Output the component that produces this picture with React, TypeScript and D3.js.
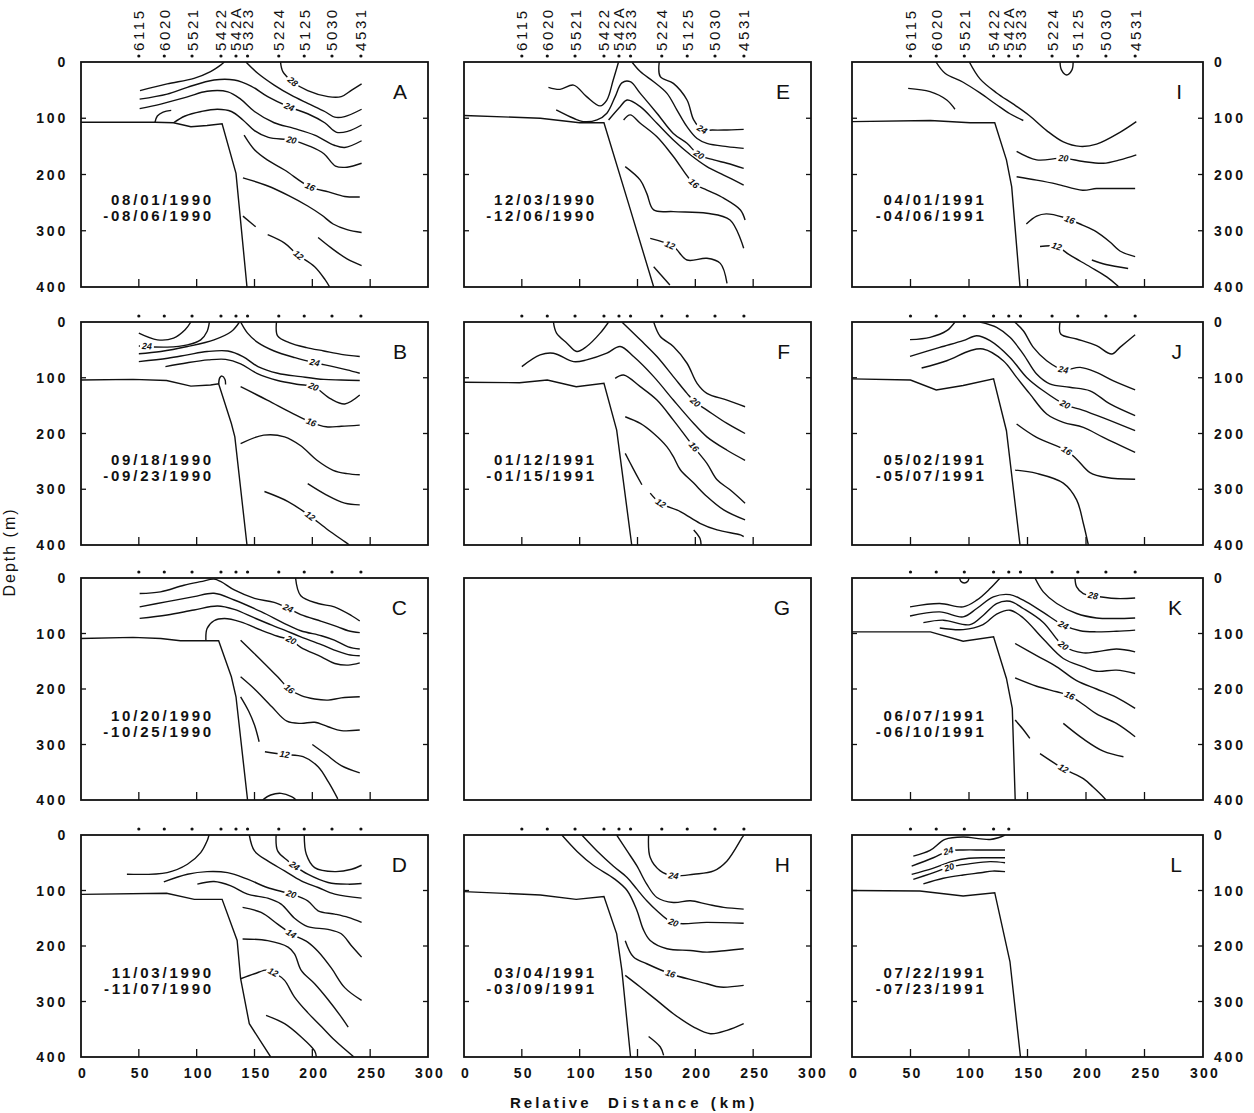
import React from 'react';
import * as d3 from 'd3';

type Pt = number[];
type Contour = { p: Pt[]; l?: string; at?: number };

// ---------- stations ----------
const stationNames = ['6115', '6020', '5521', '5422', '542A', '5323', '5224', '5125', '5030', '4531'];
const stationKm = [50, 72, 96, 121, 134, 144, 171, 193, 217, 242];

// ---------- axis ticks ----------
const depthTicks = [0, 100, 200, 300, 400];
const innerDepthTicks = [100, 200, 300];
const distTicks = [0, 50, 100, 150, 200, 250, 300];
const innerDistTicks = [50, 100, 150, 200, 250];

// ---------- bathymetry (km, depth m) ----------
const bathyA: Pt[] = [[0, 107], [64, 107], [80, 108], [95, 115], [109, 113], [122, 110], [134, 198], [143.5, 400]];
const bathyB: Pt[] = [[0, 104], [45, 103], [74, 105], [95, 115], [112, 113], [119, 111], [130, 182], [133, 206], [143.5, 400]];
const bathyC: Pt[] = [[0, 109], [45, 107], [69, 109], [86, 113], [108, 113], [119, 113], [130, 178], [134, 214], [144, 400]];
const bathyD: Pt[] = [[0, 107], [74, 105], [98, 116], [122, 116], [135, 190], [138, 259], [145.5, 340], [164, 400]];
const bathyE: Pt[] = [[0, 95], [66, 100], [100, 108], [121, 108], [142, 250], [164, 400]];
const bathyF: Pt[] = [[0, 108], [48, 109], [72, 104], [97, 116], [121, 110], [132, 194], [145, 400]];
const bathyH: Pt[] = [[0, 102], [66, 108], [97, 116], [121, 111], [132, 178], [136.5, 244], [144, 400]];
const bathyI: Pt[] = [[0, 106], [67, 104], [101, 108], [122, 108], [132, 174], [136.5, 222], [143.6, 400]];
const bathyJ: Pt[] = [[0, 102], [50, 104], [72, 122], [95, 114], [121, 102], [132, 195], [143.6, 400]];
const bathyK: Pt[] = [[0, 97], [67, 97], [95, 114], [121, 106], [132, 181], [137, 235], [139.5, 400]];
const bathyL: Pt[] = [[0, 100], [58, 101], [95, 110], [122, 104], [135, 228], [144, 400]];

// ---------- isotherms (km, depth m) ----------
const contoursA: Contour[] = [
  { p: [[51, 51], [74.5, 39], [97.7, 29], [112, 17], [121, 5], [124, 0]] },
  { p: [[172.5, 0], [174.5, 17], [183, 35], [196, 51], [213.6, 61.6], [225, 61.6], [234, 50], [242.6, 39]], l: '28', at: 183 },
  { p: [[142.6, 0], [152.8, 20], [167, 41], [181.7, 59], [196, 73.5], [210.7, 88], [219.4, 98], [228, 97], [242.6, 84]] },
  { p: [[50.7, 66], [74.5, 57], [91.9, 45], [115, 32], [132.5, 32], [147, 42.7], [161.4, 61.6], [180, 80], [196, 92], [210.7, 108], [221, 125], [231, 123], [242.6, 112]], l: '24', at: 180 },
  { p: [[50.7, 83], [69, 75], [92, 62], [109, 52], [127, 53], [138, 66], [150, 88], [167, 108], [184, 118], [202, 130], [219, 148], [228, 152], [242.6, 140]] },
  { p: [[64, 107], [66, 96], [71, 89], [78, 86]] },
  { p: [[80, 108], [90, 96], [104, 88], [118, 84], [130, 88], [140, 103], [150, 122], [162, 134], [182, 139], [198, 150], [210, 163], [220, 185], [230, 187], [242.6, 180]], l: '20', at: 182 },
  { p: [[141, 130], [150, 156], [161, 174], [176, 192], [198, 222], [214, 231], [228, 239], [241, 240]], l: '16', at: 198 },
  { p: [[140, 206], [161, 220], [180, 238], [196, 256], [208, 272], [218, 288], [230, 298], [242.6, 303]] },
  { p: [[140, 274], [151, 293]] },
  { p: [[161.4, 307], [176, 322], [187.5, 343], [202, 364], [211, 387], [215, 400]], l: '12', at: 188 },
  { p: [[205, 312], [216, 330], [230, 350], [242.6, 362]] },
];

const contoursB: Contour[] = [
  { p: [[50, 20], [66, 32], [80, 29], [90, 14], [95, 0]] },
  { p: [[50, 43], [74.5, 45], [92, 41], [103.5, 32], [109, 17], [111, 0]], l: '24', at: 57 },
  { p: [[50, 57], [69, 53], [92, 44], [115, 32], [130, 17], [137, 0]] },
  { p: [[169, 0], [170, 25], [180, 37], [195, 46], [210, 52], [225, 58], [241, 62]] },
  { p: [[138, 0], [144, 20], [153, 37], [167, 52], [185, 64], [202, 73], [218, 80], [230, 86], [241, 92]], l: '24', at: 202 },
  { p: [[50, 71], [75, 65], [92, 59], [109, 53], [127, 52], [140, 62], [153, 80], [170, 92], [190, 98], [210, 103], [225, 104], [241, 105]] },
  { p: [[73, 80], [92, 73], [110, 68], [125, 67], [138, 75], [152, 92], [170, 105], [188, 112], [201, 116], [216, 138], [228, 147], [241, 131]], l: '20', at: 201 },
  { p: [[119, 111], [120, 100], [122, 97], [124.5, 103], [125, 112]] },
  { p: [[138, 116], [161, 140], [182, 163], [199, 180], [212, 188], [225, 187], [241, 185]], l: '16', at: 199 },
  { p: [[138, 218], [158, 203], [176, 206], [190, 222], [204, 248], [218, 266], [230, 272], [241, 274]] },
  { p: [[196, 290], [212, 310], [228, 325], [241, 328]] },
  { p: [[158.6, 304], [179, 322], [196, 345], [213.6, 373], [228, 394], [232, 400]], l: '12', at: 198 },
];

const contoursC: Contour[] = [
  { p: [[185.5, 0], [190, 32], [205, 46], [219, 52], [234, 68], [241, 77.5]] },
  { p: [[50.7, 28], [68.7, 25], [89, 13], [103.5, 6.6], [115, 2], [121, 6.6], [132.5, 21.6], [150, 36.6], [167, 44], [179, 54.7], [190, 66], [207.8, 78], [222, 88], [231, 95], [241, 98.5]], l: '24', at: 179 },
  { p: [[50.7, 52], [74.5, 42.6], [97.7, 33.6], [115, 27.6], [132.5, 39.6], [155.7, 60.7], [176, 82], [190, 95], [207.8, 104], [219, 112], [231, 124], [241, 128]] },
  { p: [[50.7, 72.7], [74.5, 66.7], [97.7, 57.7], [118, 50.5], [132.5, 56.5], [150, 72], [165, 85], [176, 94], [190, 106], [207.8, 120], [219, 130], [231, 138], [241, 140]] },
  { p: [[108, 113], [109, 91], [115, 77], [124, 73], [138, 79], [155.7, 94], [170, 105], [181.7, 112], [190, 125], [207.8, 142], [219.4, 154], [231, 157], [241, 153]], l: '20', at: 181.7 },
  { p: [[138, 112], [155.7, 148], [170, 178], [180, 200], [190.4, 212], [202, 218], [213.6, 220], [225, 216], [241, 214]], l: '16', at: 180 },
  { p: [[138, 178], [150, 200], [165, 232], [178, 258], [190, 262], [202, 260], [213.6, 268], [225, 275], [241, 274]] },
  { p: [[138, 214], [145, 240], [150, 265], [154, 295]] },
  { p: [[159, 313], [176, 318], [192, 322], [205, 340], [214, 368], [222, 398]], l: '12', at: 176 },
  { p: [[200, 300], [212, 318], [225, 338], [241, 351]] },
  { p: [[157, 400], [164, 391], [173, 388], [182, 394], [186, 400]] },
];

const contoursD: Contour[] = [
  { p: [[39.7, 70.7], [74.5, 67.7], [92, 52.7], [103.5, 31.7], [109, 10.8], [110.7, 0]] },
  { p: [[145.5, 0], [150, 28.7], [161.4, 46.7], [176, 64.7], [190.4, 82.6], [205, 94.6], [219.4, 106.6], [242.6, 113.8]] },
  { p: [[168.7, 0], [170, 28.7], [179, 46.7], [184.6, 55.7], [196, 70.7], [213.6, 85.6], [231, 88.6], [242.6, 87.4]], l: '24', at: 184.6 },
  { p: [[193, 0], [194.8, 34.7], [202, 58.7], [219.4, 65.9], [234, 61.7], [242.6, 54.5]] },
  { p: [[71.6, 84.4], [92, 70.7], [109, 65.9], [126.7, 67.7], [144, 79.6], [161, 94.6], [181.7, 106.6], [196, 118.6], [205, 136.5], [219.4, 142.5], [231, 148.5], [242.6, 157.5]], l: '20', at: 181.7 },
  { p: [[100.6, 88.6], [115, 83.8], [129.6, 91.6], [144, 106.6], [161.4, 113.8], [173, 124.5], [184.6, 150], [196, 165], [213.6, 170], [225, 178], [234, 200], [242.6, 220]] },
  { p: [[139.7, 130.5], [155.7, 139.5], [170, 160.5], [181.7, 178], [196, 193], [205, 210], [216.5, 240], [228, 275], [242.6, 298]], l: '14', at: 181.7 },
  { p: [[139.7, 187.4], [161.4, 190.4], [179, 202], [184.6, 214], [190.4, 244], [202, 268], [213, 295], [224, 325], [231, 346]] },
  { p: [[138, 259], [150, 250], [161.4, 243], [168.7, 250], [176, 262], [184.6, 292], [196, 320], [207.8, 345], [219.4, 370], [236, 400]], l: '12', at: 166 },
  { p: [[160, 325], [176, 340], [190.4, 364], [202, 389], [203.5, 400]] },
];

const contoursE: Contour[] = [
  { p: [[73, 45], [83, 48.6], [94.7, 41], [106, 61.6], [117.7, 78], [123.5, 67.6], [129, 32], [133.6, 0]] },
  { p: [[79.7, 85], [94.7, 100], [103, 106], [115, 103], [123.5, 91], [130.7, 61.6], [136.5, 37], [143.7, 35], [152.4, 55.7], [166.8, 91], [181, 127], [192.8, 144.6], [203, 165], [216, 174], [227.4, 180], [241.8, 189]], l: '20', at: 203 },
  { p: [[145.2, 0], [152.4, 17], [164, 35], [175.5, 55.7], [184, 85], [192.8, 115], [201.5, 136], [210, 144.6], [227.4, 150.5], [241.8, 153.5]] },
  { p: [[168.8, 0], [169.7, 26], [181, 38], [192.8, 67.6], [198.6, 103], [205.8, 120], [215, 121], [224.5, 121], [241.8, 119.7]], l: '24', at: 205.8 },
  { p: [[125, 103], [135, 79.4], [141, 67.6], [152.4, 79.4], [166.8, 109], [181, 138.7], [195.7, 165], [210, 186], [224.5, 201], [241.8, 218.7]] },
  { p: [[138, 103], [143.7, 94], [152.4, 109], [166.8, 133], [181, 168], [198.6, 216], [210, 227.6], [224.5, 242], [239, 263], [243, 281]], l: '16', at: 198.6 },
  { p: [[139.4, 186], [152.4, 210], [158, 233.5], [164, 263], [181, 266], [210, 269], [230, 281], [241.8, 331]] },
  { p: [[161, 313.5], [181, 328], [192.8, 352], [210, 349], [221.6, 358], [227.4, 393.5]], l: '12', at: 178 },
  { p: [[164, 364], [178, 396.4]] },
];

const contoursF: Contour[] = [
  { p: [[77.3, 0], [80, 20], [89, 38], [97.5, 53], [106, 44], [117.7, 20], [125, 0]] },
  { p: [[136.5, 0], [152.4, 32], [166.8, 62], [181, 98], [192.8, 128], [200, 144], [210, 158], [227.4, 182], [243, 200]], l: '20', at: 200 },
  { p: [[164, 0], [169.7, 26], [181, 44], [192.8, 74], [201.5, 110], [210, 128], [227.4, 140], [243, 152]] },
  { p: [[50, 80], [65.8, 59], [77.3, 56], [94.7, 71], [106, 68], [123.5, 56], [135, 44], [146.6, 62], [164, 98], [181, 140], [198.6, 182], [210, 206], [227.4, 230], [243, 248]] },
  { p: [[130.7, 101], [138, 95], [152.4, 116], [166.8, 140], [181, 176], [198.6, 224], [210, 253.5], [218.8, 283], [230, 301], [243, 325]], l: '16', at: 198.6 },
  { p: [[139.4, 170], [152.4, 182], [164, 200], [175.5, 224], [181, 241.5], [187, 265], [198.6, 289], [210, 313], [224.5, 337], [243, 355]] },
  { p: [[139.4, 235.6], [146, 262], [153.8, 292]] },
  { p: [[161, 307], [169.7, 325], [187, 340], [204, 361], [218.8, 373], [239, 382], [241.8, 385]], l: '12', at: 170 },
  { p: [[198.6, 373], [204, 388], [205, 400]] },
];

const contoursH: Contour[] = [
  { p: [[159.6, 0], [161, 40.7], [169.7, 64.7], [181, 73.7], [198.6, 70.7], [215.9, 64.7], [227.4, 46.7], [240.4, 4.8], [242, 0]], l: '24', at: 181 },
  { p: [[132, 0], [141, 28.7], [149.5, 55.7], [158, 88.6], [166.8, 112.6], [181, 121.6], [195.7, 118.6], [210, 124.6], [224.5, 130.5], [241.8, 133.5]] },
  { p: [[101.9, 0], [115, 28.7], [129, 55.7], [141, 76.6], [149.5, 97.6], [158, 118.6], [166.8, 136.5], [181, 158], [210, 157.5], [241.8, 159]], l: '20', at: 181 },
  { p: [[84.6, 0], [98, 30], [112, 55], [130, 79], [141, 100], [149.5, 136], [155, 170], [161, 190], [175.5, 205], [195.7, 208], [210, 211], [227.4, 208], [241.8, 205]] },
  { p: [[139.4, 190.4], [146.6, 220], [158, 232], [178.4, 250], [198.6, 262], [210, 268], [221.6, 274], [241.8, 271]], l: '16', at: 178.4 },
  { p: [[139.4, 253], [152.4, 274], [166.8, 298], [181, 322], [198.6, 346], [213, 358], [227.4, 352], [241.8, 340]] },
  { p: [[159.6, 363], [169.7, 382], [172.6, 397]] },
];

const contoursI: Contour[] = [
  { p: [[48, 46.8], [66.7, 52.7], [81, 67.6], [88, 84]] },
  { p: [[71.8, 0], [79.5, 20], [95, 36], [109.4, 55], [123.6, 76], [135, 92], [146.4, 104]] },
  { p: [[100.3, 0], [109.4, 30], [123.6, 55], [138, 75], [152, 96], [166.4, 122], [180.6, 142], [195, 150], [209, 146], [229, 125], [243, 106]] },
  { p: [[140.7, 159], [157.8, 174], [180.6, 171], [197.7, 177], [214.8, 180], [229, 174], [243, 165]], l: '20', at: 180.6 },
  { p: [[140.7, 204], [157.8, 210], [175, 217], [197, 228], [209, 225], [223, 225], [242, 225]] },
  { p: [[149, 288], [157.8, 274], [166, 270], [180.6, 276], [197, 290], [209, 302], [220.5, 320], [229, 336], [242, 346]], l: '16', at: 186 },
  { p: [[160.7, 328], [175, 328], [186, 343], [203.4, 364], [217.7, 382], [226, 396], [228, 400]], l: '12', at: 175 },
  { p: [[205, 352], [217, 360], [236, 367]] },
  { p: [[177.8, 0], [179, 14], [183.5, 23], [188, 14], [189, 0]] },
];

const contoursJ: Contour[] = [
  { p: [[49.6, 31.7], [66.7, 27.5], [81, 15.6], [88, 0]] },
  { p: [[109.4, 0], [123.6, 9.6], [135, 27.5], [146.4, 57.5], [157.8, 93.4], [169, 111], [186, 117], [203.4, 123.4], [220.5, 147], [242, 168]] },
  { p: [[139, 0], [146.4, 15.6], [155, 45.5], [166.4, 69.5], [180.6, 85.6], [195, 81.4], [209, 90.4], [223, 105], [242, 121.6]], l: '24', at: 180.6 },
  { p: [[177.8, 0], [178.4, 21.6], [192, 30.5], [209, 42.5], [222, 57.5], [229, 45.5], [242, 22.8]] },
  { p: [[49.6, 61.7], [75, 45.5], [95, 33.5], [106.6, 24.6], [118, 33.5], [135, 63.5], [149.3, 99.4], [163.5, 123.4], [182, 148], [197, 158], [214.8, 172], [242, 195]], l: '20', at: 182 },
  { p: [[59.5, 82.6], [81, 69.5], [100.9, 51.5], [112, 48.5], [129.3, 69.5], [140.7, 99.4], [152, 129], [166.4, 165], [180.6, 180], [197.7, 189], [214.8, 207], [242, 234]] },
  { p: [[140.7, 183], [157.8, 207], [183.5, 231], [192, 246], [203.4, 270], [217.7, 279], [242, 282]], l: '16', at: 183.5 },
  { p: [[139.4, 265.6], [157.8, 271.6], [180.6, 289], [192, 319], [197.7, 361], [202, 400]] },
];

const contoursK: Contour[] = [
  { p: [[190.6, 0], [192, 16], [197.7, 28], [206, 32], [226, 37], [242, 36]], l: '28', at: 206 },
  { p: [[156.4, 0], [163.5, 25], [175, 46], [192, 64], [209, 72], [226, 73], [242, 72]] },
  { p: [[49.6, 52], [75, 46], [95, 52], [106.6, 40], [118, 19], [126.5, 0]] },
  { p: [[49.6, 68.5], [75, 61], [95, 70], [106.6, 55], [120.8, 34], [135, 30], [146.4, 40], [163.5, 62], [180.6, 85], [195, 95], [209, 97], [226, 96], [242, 94]], l: '24', at: 180.6 },
  { p: [[61, 80.5], [78, 76], [100.9, 84], [112.3, 67], [123.6, 46], [135, 42], [146.4, 55], [163.5, 80], [180.6, 122], [197.7, 135], [209, 133], [226, 128], [242, 133]], l: '20', at: 180.6 },
  { p: [[75, 90], [95, 93], [112, 84], [123.6, 65], [135, 58], [146.4, 72], [163.5, 110], [180.6, 145], [197.7, 160], [209, 168], [226, 166], [242, 172]] },
  { p: [[139.4, 118], [157.8, 140], [175, 160], [192, 185], [209, 200], [226, 215], [242, 235]] },
  { p: [[139.4, 180], [157.8, 195], [175, 205], [186, 212], [197.7, 228], [209, 245], [226, 262], [242, 286]], l: '16', at: 186 },
  { p: [[139.4, 256], [146, 272], [152, 289]] },
  { p: [[180.6, 262], [197.7, 290], [214.8, 312], [232, 322]] },
  { p: [[160.7, 316.5], [180.6, 343.5], [197.7, 361.6], [206, 376.6], [215, 395], [217, 400]], l: '12', at: 180.6 },
  { p: [[92, 0], [93, 6], [96, 9], [99, 6], [100, 0]] },
];

const contoursL: Contour[] = [
  { p: [[52.4, 38], [66.7, 27.8], [79.5, 7.8], [95, 3.6], [110, 7], [118, 8], [125, 5], [130.8, 0]] },
  { p: [[51, 56], [69.5, 41], [82.3, 29], [95, 27], [112, 27], [130.8, 27]], l: '24', at: 82.3 },
  { p: [[51, 71], [69, 60], [85, 48], [100, 42], [115, 41], [130.8, 41]] },
  { p: [[52.4, 80], [66.7, 70], [85, 57], [100, 52], [118, 48], [130.8, 50]], l: '20', at: 83 },
  { p: [[61, 88], [78, 78], [95, 72], [110, 68], [120, 65], [130.8, 66]] },
];

// ---------- cruise dates ----------
const datesA = ['08/01/1990', '-08/06/1990'];
const datesB = ['09/18/1990', '-09/23/1990'];
const datesC = ['10/20/1990', '-10/25/1990'];
const datesD = ['11/03/1990', '-11/07/1990'];
const datesE = ['12/03/1990', '-12/06/1990'];
const datesF = ['01/12/1991', '-01/15/1991'];
const datesH = ['03/04/1991', '-03/09/1991'];
const datesI = ['04/01/1991', '-04/06/1991'];
const datesJ = ['05/02/1991', '-05/07/1991'];
const datesK = ['06/07/1991', '-06/10/1991'];
const datesL = ['07/22/1991', '-07/23/1991'];

type PanelDef = {
  id: string; col: number; row: number;
  bathy: Pt[] | null; contours: Contour[]; dates: string[] | null; nStations: number;
};

const panels: PanelDef[] = [
  { id: 'A', col: 0, row: 0, bathy: bathyA, contours: contoursA, dates: datesA, nStations: 10 },
  { id: 'B', col: 0, row: 1, bathy: bathyB, contours: contoursB, dates: datesB, nStations: 10 },
  { id: 'C', col: 0, row: 2, bathy: bathyC, contours: contoursC, dates: datesC, nStations: 10 },
  { id: 'D', col: 0, row: 3, bathy: bathyD, contours: contoursD, dates: datesD, nStations: 10 },
  { id: 'E', col: 1, row: 0, bathy: bathyE, contours: contoursE, dates: datesE, nStations: 10 },
  { id: 'F', col: 1, row: 1, bathy: bathyF, contours: contoursF, dates: datesF, nStations: 10 },
  { id: 'G', col: 1, row: 2, bathy: null, contours: [], dates: null, nStations: 0 },
  { id: 'H', col: 1, row: 3, bathy: bathyH, contours: contoursH, dates: datesH, nStations: 10 },
  { id: 'I', col: 2, row: 0, bathy: bathyI, contours: contoursI, dates: datesI, nStations: 10 },
  { id: 'J', col: 2, row: 1, bathy: bathyJ, contours: contoursJ, dates: datesJ, nStations: 10 },
  { id: 'K', col: 2, row: 2, bathy: bathyK, contours: contoursK, dates: datesK, nStations: 10 },
  { id: 'L', col: 2, row: 3, bathy: bathyL, contours: contoursL, dates: datesL, nStations: 5 },
];

// ---------- layout ----------
const COL_L = [81, 464, 852];
const COL_R = [428, 811, 1203];
const ROW_T = [62, 322, 578, 835];
const ROW_B = [287, 545, 800, 1057];
const FONT = "'Liberation Sans', Arial, Helvetica, sans-serif";

function depthAt(p: Pt[], km: number): number {
  for (let i = 0; i < p.length - 1; i++) {
    const a = p[i], b = p[i + 1];
    if ((km >= a[0] && km <= b[0]) || (km <= a[0] && km >= b[0])) {
      const t = b[0] === a[0] ? 0 : (km - a[0]) / (b[0] - a[0]);
      return a[1] + t * (b[1] - a[1]);
    }
  }
  return p[p.length - 1][1];
}

function Panel({ pn }: { pn: PanelDef }) {
  const x = d3.scaleLinear().domain([0, 300]).range([COL_L[pn.col], COL_R[pn.col]]);
  const y = d3.scaleLinear().domain([0, 400]).range([ROW_T[pn.row], ROW_B[pn.row]]);
  const smooth = d3.line<Pt>().x((d) => x(d[0])).y((d) => y(d[1])).curve(d3.curveCatmullRom.alpha(0.5));
  const straight = d3.line<Pt>().x((d) => x(d[0])).y((d) => y(d[1]));
  const left = COL_L[pn.col], right = COL_R[pn.col], top = ROW_T[pn.row], bottom = ROW_B[pn.row];
  const clipId = `clip-${pn.id}`;
  const empty = pn.bathy === null;
  const dateX = x(115);

  return (
    <g>
      <defs>
        <clipPath id={clipId}>
          <rect x={left} y={top} width={right - left} height={bottom - top} />
        </clipPath>
      </defs>
      <g clipPath={`url(#${clipId})`}>
        {pn.contours.map((c, i) => (
          <path key={i} d={smooth(c.p) || ''} fill="none" stroke="#111" strokeWidth={1.4} />
        ))}
        {pn.bathy && <path d={straight(pn.bathy) || ''} fill="none" stroke="#111" strokeWidth={1.4} />}
      </g>
      {pn.contours.filter((c) => c.l).map((c, i) => {
        const km = c.at as number;
        const d0 = depthAt(c.p, km);
        const dA = depthAt(c.p, km - 4), dB = depthAt(c.p, km + 4);
        let ang = (Math.atan2(y(dB) - y(dA), x(km + 4) - x(km - 4)) * 180) / Math.PI;
        ang = Math.max(-50, Math.min(50, ang));
        return (
          <g key={'l' + i} transform={`translate(${x(km)},${y(d0)}) rotate(${ang})`}>
            <rect x={-7} y={-4} width={14} height={8} fill="#fff" />
            <text x={0} y={3} textAnchor="middle" fontSize={9} fontStyle="italic" fontWeight="bold" fill="#111">{c.l}</text>
          </g>
        );
      })}
      <rect x={left} y={top} width={right - left} height={bottom - top} fill="none" stroke="#111" strokeWidth={1.8} />
      {!empty && innerDistTicks.map((t) => (
        <line key={'bt' + t} x1={x(t)} x2={x(t)} y1={bottom} y2={bottom - 8} stroke="#111" strokeWidth={1.3} />
      ))}
      {!empty && innerDepthTicks.map((t) => (
        <g key={'dt' + t}>
          <line x1={left} x2={left + 5} y1={y(t)} y2={y(t)} stroke="#111" strokeWidth={1.3} />
          <line x1={right - 5} x2={right} y1={y(t)} y2={y(t)} stroke="#111" strokeWidth={1.3} />
        </g>
      ))}
      {stationKm.slice(0, pn.nStations).map((s, i) => (
        <circle key={'st' + i} cx={x(s)} cy={top - 6} r={1.6} fill="#111" />
      ))}
      {pn.row === 0 && stationNames.map((nm, i) => (
        <text key={'sn' + i} transform={`translate(${x(stationKm[i]) + 5.5},${top - 11}) rotate(-90)`}
          fontSize={15} letterSpacing={2.6} fill="#111">{nm}</text>
      ))}
      {pn.dates && (
        <g fontSize={15} letterSpacing={2.8} fill="#111" textAnchor="end" fontWeight="bold">
          <text x={dateX} y={top + 143}>{pn.dates[0]}</text>
          <text x={dateX} y={top + 159}>{pn.dates[1]}</text>
        </g>
      )}
      <text x={right - 21} y={top + 37} fontSize={21} textAnchor="end" fill="#111">{pn.id}</text>
      {pn.col === 0 && depthTicks.map((t) => (
        <text key={'ly' + t} x={left - 13} y={y(t)} dy="0.36em" textAnchor="end" fontSize={14}
          fontWeight="bold" letterSpacing={2.8} fill="#111">{t}</text>
      ))}
      {pn.col === 2 && depthTicks.map((t) => (
        <text key={'ry' + t} x={right + 11} y={y(t)} dy="0.36em" textAnchor="start" fontSize={14}
          fontWeight="bold" letterSpacing={2.8} fill="#111">{t}</text>
      ))}
      {pn.row === 3 && distTicks.map((t) => (
        <text key={'bx' + t} x={x(t) + 2} y={bottom + 21} textAnchor="middle" fontSize={14}
          fontWeight="bold" letterSpacing={2.2} fill="#111">{t}</text>
      ))}
    </g>
  );
}

export default function App() {
  return (
    <svg width={1254} height={1113} viewBox="0 0 1254 1113" fontFamily={FONT}
      style={{ position: 'absolute', left: 0, top: 0, background: '#fff' }}>
      <rect x={0} y={0} width={1254} height={1113} fill="#fff" />
      {panels.map((pn) => <Panel key={pn.id} pn={pn} />)}
      <text transform="translate(15,552) rotate(-90)" textAnchor="middle" fontSize={16}
        letterSpacing={2} fill="#111">Depth (m)</text>
      <text x={510} y={1108} fontSize={15} fontWeight="bold" letterSpacing={3} fill="#111">Relative</text>
      <text x={608} y={1108} fontSize={15} fontWeight="bold" letterSpacing={4} fill="#111">Distance (km)</text>
    </svg>
  );
}
